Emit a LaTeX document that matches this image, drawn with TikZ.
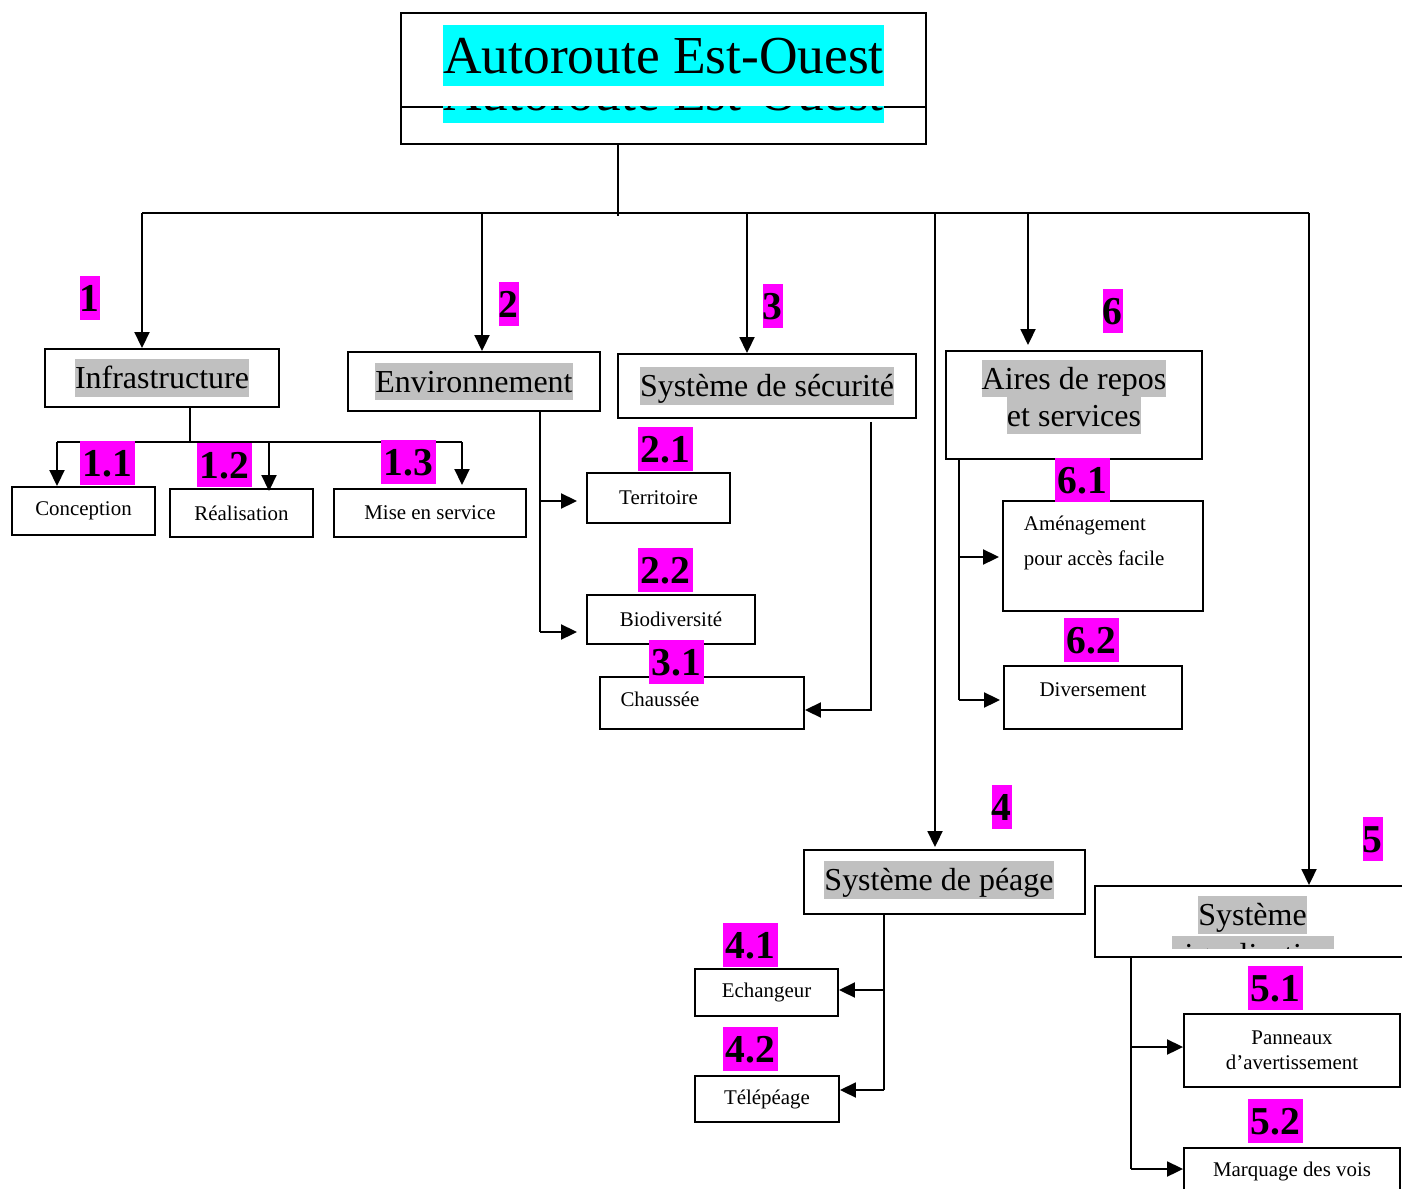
\documentclass[tikz,border=0pt]{standalone}
\usepackage{fontspec}
\setmainfont{Liberation Serif}
\usepackage{xcolor}
\usetikzlibrary{arrows.meta, positioning, calc}
\definecolor{hlcyan}{HTML}{00FFFF}
\definecolor{hlgray}{HTML}{C0C0C0}
\definecolor{hlmag}{HTML}{FF00FF}
\newcommand{\surligne}[2]{{\setlength{\fboxsep}{0pt}\colorbox{#1}{\rule[-0.24em]{0pt}{1.16em}#2}}}
\newcommand{\titlesize}{\fontsize{30.4}{36}\selectfont}
\newcommand{\midsize}{\fontsize{18.2}{21.2}\selectfont}
\newcommand{\petit}{\fontsize{11.9}{13.7}\selectfont}

\begin{document}
\begin{tikzpicture}[x=0.02cm, y=-0.02cm, line width=1.1pt,
    boite/.style={draw, inner sep=0pt, font=\petit},
    grand/.style={boite, font=\midsize},
    txt/.style={inner sep=0pt},
    num/.style={fill=hlmag, inner sep=0pt, text height=0.7cm, text depth=0.18cm,
        anchor=south west, font=\fontsize{22.5}{26}\selectfont\bfseries},
    num2/.style={num, minimum width=1.1cm},
    arr/.style={-{Triangle[length=0.32cm, width=0.3cm]}}]
    \useasboundingbox (0,0) rectangle (1402,1189);

    % titre
    \node[boite, minimum width=10.5cm, minimum height=2.62cm] (top) at (663.5,78.5) {};
    \draw (top.west |- 0,107) -- (top.east |- 0,107);
    \node[txt, font=\titlesize] (top-t) at (663.5,55.5) {\surligne{hlcyan}{Autoroute Est-Ouest}};
    \begin{scope}
        \clip (top.west |- 0,107) rectangle (top.south east);
        \node[txt, font=\titlesize] (top-bis) at (663.5,92.5) {\surligne{hlcyan}{Autoroute Est-Ouest}};
    \end{scope}

    % niveau 1
    \node[grand, minimum width=4.68cm, minimum height=1.16cm] (infra) at (162,378) {\surligne{hlgray}{Infrastructure}};
    \node[grand, minimum width=5.04cm, minimum height=1.18cm] (env) at (474,381.5) {\surligne{hlgray}{Environnement}};
    \node[grand, minimum width=5.96cm, minimum height=1.28cm] (secu) at (767,386) {\surligne{hlgray}{Système de sécurité}};
    \node[grand, minimum width=5.12cm, minimum height=2.16cm] (aires) at (1074,405) {};
    \node[txt, font=\midsize, align=center] (aires-t) at (1074,397)
        {\surligne{hlgray}{Aires de repos}\\\surligne{hlgray}{et services}};
    \node[grand, minimum width=5.62cm, minimum height=1.28cm] (peage) at (944.5,882) {};
    \node[txt, font=\midsize] (peage-t) at (939,880) {\surligne{hlgray}{Système de péage}};
    \node[grand, minimum width=6.3cm, minimum height=1.42cm] (signal) at (1252.5,921.5) {};
    \node[txt, font=\midsize] (signal-t) at (1252.5,915) {\surligne{hlgray}{Système}};
    \begin{scope}
        \clip (1095,936) rectangle (1410,948);
        \node[txt, font=\midsize] (signal-bis) at (1253,955) {\surligne{hlgray}{signalisation}};
    \end{scope}

    % niveau 2
    \node[boite, minimum width=2.86cm, minimum height=0.96cm] (concep) at (83.5,511) {Conception};
    \node[boite, minimum width=2.86cm, minimum height=0.96cm] (realis) at (241.5,513) {Réalisation};
    \node[boite, minimum width=3.84cm, minimum height=0.96cm] (mise) at (430,513) {Mise en service};
    \node[boite, minimum width=2.86cm, minimum height=1.0cm] (terr) at (658.5,498) {Territoire};
    \node[boite, minimum width=3.36cm, minimum height=0.98cm] (bio) at (671,619.5) {Biodiversité};
    \node[boite, minimum width=4.08cm, minimum height=1.04cm] (chaus) at (702,703) {};
    \node[txt, font=\petit] (chaus-t) at (660,699) {Chaussée};
    \node[boite, minimum width=4.0cm, minimum height=2.2cm] (amen) at (1103,556) {};
    \node[txt, font=\fontsize{11.9}{20.4}\selectfont, align=left, anchor=west] (amen-t) at (1023,543)
        {Aménagement\\pour accès facile};
    \node[boite, minimum width=3.56cm, minimum height=1.26cm] (divers) at (1093,697.5) {};
    \node[txt, font=\petit] (divers-t) at (1093,690) {Diversement};
    \node[boite, minimum width=2.86cm, minimum height=0.94cm] (echan) at (766.5,992.5) {Echangeur};
    \node[boite, minimum width=2.88cm, minimum height=0.92cm] (tele) at (767,1099) {Télépéage};
    \node[boite, minimum width=4.32cm, minimum height=1.46cm, align=center, font=\fontsize{11.9}{14.4}\selectfont]
        (pann) at (1292,1050.5) {Panneaux\\d’avertissement};
    \node[boite, minimum width=4.32cm, minimum height=0.92cm] (marq) at (1292,1171) {Marquage des vois};

    % liaisons du titre
    \coordinate (bus) at (618,213);
    \coordinate (j1) at (142,213);
    \coordinate (j2) at (482,213);
    \coordinate (j3) at (747,213);
    \coordinate (j4) at (935,213);
    \coordinate (j6) at (1028,213);
    \coordinate (j5) at (1309,213);
    \draw (top.south -| bus) -- ([yshift=-0.06cm]bus);
    \draw (j1) -- (j5);
    \draw[arr] (j1) -- (infra.north -| j1);
    \draw[arr] (j2) -- (env.north -| j2);
    \draw[arr] (j3) -- (secu.north -| j3);
    \draw[arr, shorten >=0.04cm] (j4) -- (peage.north -| j4);
    \draw[arr, shorten >=0.1cm] (j6) -- (aires.north -| j6);
    \draw[arr] (j5) -- (signal.north -| j5);

    % infrastructure
    \coordinate (k) at (190,442);
    \coordinate (k1) at (57,442);
    \coordinate (k2) at (269,442);
    \coordinate (k3) at (462,442);
    \draw (infra.south -| k) -- (k);
    \draw (k1) -- (k3);
    \draw[arr] (k1) -- (concep.north -| k1);
    \draw[arr, shorten >=-0.06cm] (k2) -- (realis.north -| k2);
    \draw[arr, shorten >=0.06cm] (k3) -- (mise.north -| k3);

    % environnement
    \coordinate (e1) at (540,501);
    \coordinate (e2) at (540,632);
    \draw (env.south -| e1) -- (e2);
    \draw[arr, shorten >=0.18cm] (e1) -- (terr.west |- e1);
    \draw[arr, shorten >=0.18cm] (e2) -- (bio.west |- e2);

    % securite
    \coordinate (s1) at (871,710);
    \draw[arr] ([yshift=-0.06cm]secu.south -| s1) -- (s1) -- (chaus.east |- s1);

    % aires
    \coordinate (a1) at (959,557);
    \coordinate (a2) at (959,700);
    \draw (aires.south -| a1) -- (a2);
    \draw[arr, shorten >=0.06cm] (a1) -- (amen.west |- a1);
    \draw[arr, shorten >=0.06cm] (a2) -- (divers.west |- a2);

    % peage
    \coordinate (p1) at (884,990);
    \coordinate (p2) at (884,1090);
    \draw (peage.south -| p1) -- (p2);
    \draw[arr] (p1) -- (echan.east |- p1);
    \draw[arr] (p2) -- (tele.east |- p2);

    % signalisation
    \coordinate (g1) at (1131,1047);
    \coordinate (g2) at (1131,1169);
    \draw (signal.south -| g1) -- (g2);
    \draw[arr] (g1) -- (pann.west |- g1);
    \draw[arr] (g2) -- (marq.west |- g2);

    % numeros
    \node[num] (n1) at (79,321) {1\hspace{0.18cm}};
    \node[num] (n2) at (498,327) {2\hspace{0.18cm}};
    \node[num] (n3) at (762,329) {3};
    \node[num] (n6) at (1102,334) {6};
    \node[num] (n4) at (991,830) {4};
    \node[num] (n5) at (1362,862) {5};
    \node[num2] (n11) at (79,486) {1.1};
    \node[num2] (n12) at (196,488) {1.2};
    \node[num2] (n13) at (380,485) {1.3};
    \node[num2] (n21) at (637,472) {2.1};
    \node[num2] (n22) at (637,593) {2.2};
    \node[num2] (n31) at (648,685) {3.1};
    \node[num2] (n61) at (1054,503) {6.1};
    \node[num2] (n62) at (1063,663) {6.2};
    \node[num2] (n41) at (722,968) {4.1};
    \node[num2] (n42) at (722,1072) {4.2};
    \node[num2] (n51) at (1247,1011) {5.1};
    \node[num2] (n52) at (1247,1144) {5.2};
\end{tikzpicture}
\end{document}
